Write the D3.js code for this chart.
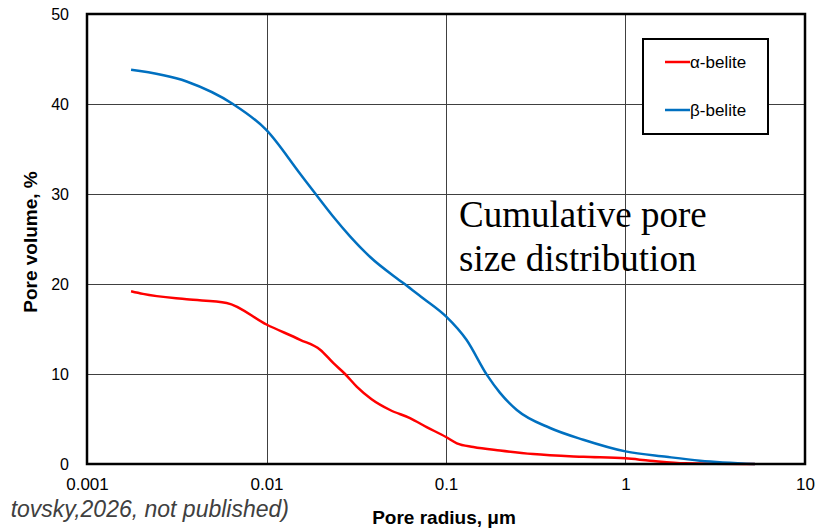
<!DOCTYPE html>
<html>
<head>
<meta charset="utf-8">
<script src="https://cdn.jsdelivr.net/npm/d3@7"></script>
<style>
  html, body { margin: 0; padding: 0; background: #fff; }
  svg { display: block; }
</style>
</head>
<body>
<script>
// Pore radius (µm) and cumulative pore volume (%) for each belite polymorph
const alphaRadius = [0.00176, 0.00205, 0.00359, 0.0060, 0.0100, 0.0154, 0.0199, 0.0236, 0.0274, 0.0318, 0.0385, 0.0488, 0.063, 0.078, 0.100, 0.115, 0.142, 0.200, 0.306, 0.582, 1.00, 1.37, 2.15, 5.26];
const alphaVolume = [19.2, 18.9, 18.3, 17.9, 15.5, 13.8, 12.7, 11.2, 10.0, 8.6, 7.2, 6.0, 5.1, 4.1, 3.0, 2.3, 1.9, 1.5, 1.1, 0.8, 0.63, 0.37, 0.08, 0.0];

const betaRadius = [0.00176, 0.00359, 0.0065, 0.0100, 0.0152, 0.0186, 0.0235, 0.0292, 0.0378, 0.0578, 0.0748, 0.100, 0.130, 0.169, 0.200, 0.248, 0.380, 0.582, 1.00, 1.69, 2.60, 5.26];
const betaVolume = [43.8, 42.5, 40.0, 37.1, 32.4, 30.1, 27.5, 25.3, 23.0, 20.1, 18.4, 16.4, 13.8, 9.9, 7.9, 6.0, 4.0, 2.7, 1.4, 0.8, 0.37, 0.0];

const xTicks = [0.001, 0.01, 0.1, 1, 10];
const xTickLabels = ["0.001", "0.01", "0.1", "1", "10"];
const yTicks = [0, 10, 20, 30, 40, 50];

const seriesNames = ["α-belite", "β-belite"];
const seriesColors = ["#ff0000", "#0070c0"];

const W = 821, H = 531;
const m = { left: 87, right: 16, top: 14, bottom: 67 };
const sans = "Liberation Sans, Arial, sans-serif";

const svg = d3.select("body").append("svg").attr("width", W).attr("height", H);

const x = d3.scaleLog().domain([0.001, 10]).range([m.left, W - m.right]);
const y = d3.scaleLinear().domain([0, 50]).range([H - m.bottom, m.top]);

// grid
const grid = svg.append("g").attr("stroke", "#404040").attr("stroke-width", 1);
grid.selectAll(".gx").data(xTicks.slice(1, -1)).join("line")
  .attr("x1", d => Math.round(x(d)) + 0.5).attr("x2", d => Math.round(x(d)) + 0.5)
  .attr("y1", y(50)).attr("y2", y(0));
grid.selectAll(".gy").data(yTicks.slice(1, -1)).join("line")
  .attr("y1", d => Math.round(y(d)) + 0.5).attr("y2", d => Math.round(y(d)) + 0.5)
  .attr("x1", x(0.001)).attr("x2", x(10));

// axes (labels only)
const xAxis = d3.axisBottom(x).tickValues(xTicks).tickFormat((d, i) => xTickLabels[i]).tickSize(0).tickPadding(14);
const gx = svg.append("g").attr("transform", `translate(0,${y(0)})`).call(xAxis);
gx.select(".domain").remove();
gx.selectAll("text").attr("font-family", sans).attr("font-size", 17).attr("fill", "#000");

const yAxis = d3.axisLeft(y).tickValues(yTicks).tickSize(0).tickPadding(18);
const gy = svg.append("g").attr("transform", `translate(${x(0.001)},0)`).call(yAxis);
gy.select(".domain").remove();
gy.selectAll("text").attr("font-family", sans).attr("font-size", 16).attr("fill", "#000");

// curves
const line = d3.line().x(d => x(d[0])).y(d => y(d[1])).curve(d3.curveMonotoneX);
const series = [
  d3.zip(alphaRadius, alphaVolume),
  d3.zip(betaRadius, betaVolume)
];
svg.append("g").selectAll("path").data(series).join("path")
  .attr("d", line)
  .attr("fill", "none")
  .attr("stroke", (d, i) => seriesColors[i])
  .attr("stroke-width", 2.5)
  .attr("stroke-linejoin", "round");

// frame
svg.append("rect")
  .attr("x", x(0.001)).attr("y", y(50))
  .attr("width", x(10) - x(0.001)).attr("height", y(0) - y(50))
  .attr("fill", "none").attr("stroke", "#000").attr("stroke-width", 2.5);

// legend
const lg = svg.append("g");
lg.append("rect").attr("x", 643).attr("y", 39).attr("width", 125).attr("height", 95)
  .attr("fill", "#fff").attr("stroke", "#000").attr("stroke-width", 2);
const li = lg.selectAll(".item").data(seriesNames).join("g")
  .attr("transform", (d, i) => `translate(665,${62 + i * 48})`);
li.append("line").attr("x1", 0).attr("x2", 25).attr("y1", 0).attr("y2", 0)
  .attr("stroke", (d, i) => seriesColors[i]).attr("stroke-width", 2.5);
li.append("text").attr("x", 25).attr("y", 6).text(d => d)
  .attr("font-family", sans).attr("font-size", 17).attr("fill", "#000");

// annotation
const ann = svg.append("text").attr("font-family", "Liberation Serif, Times New Roman, serif")
  .attr("font-size", 37).attr("fill", "#000");
ann.append("tspan").attr("x", 459).attr("y", 227).text("Cumulative pore");
ann.append("tspan").attr("x", 459).attr("y", 271).text("size distribution");

// axis titles
svg.append("text").attr("x", 444).attr("y", 524).attr("text-anchor", "middle")
  .attr("font-family", sans).attr("font-size", 19).attr("font-weight", "bold")
  .text("Pore radius, μm");
svg.append("text").attr("transform", `translate(37,${(y(0) + y(50)) / 2 + 3}) rotate(-90)`)
  .attr("text-anchor", "middle")
  .attr("font-family", sans).attr("font-size", 19).attr("font-weight", "bold")
  .text("Pore volume, %");

// source note
svg.append("text").attr("x", 289).attr("y", 517).attr("text-anchor", "end")
  .attr("font-family", sans).attr("font-size", 23).attr("font-style", "italic")
  .attr("fill", "#404040")
  .text("tovsky,2026, not published)");
</script>
</body>
</html>
